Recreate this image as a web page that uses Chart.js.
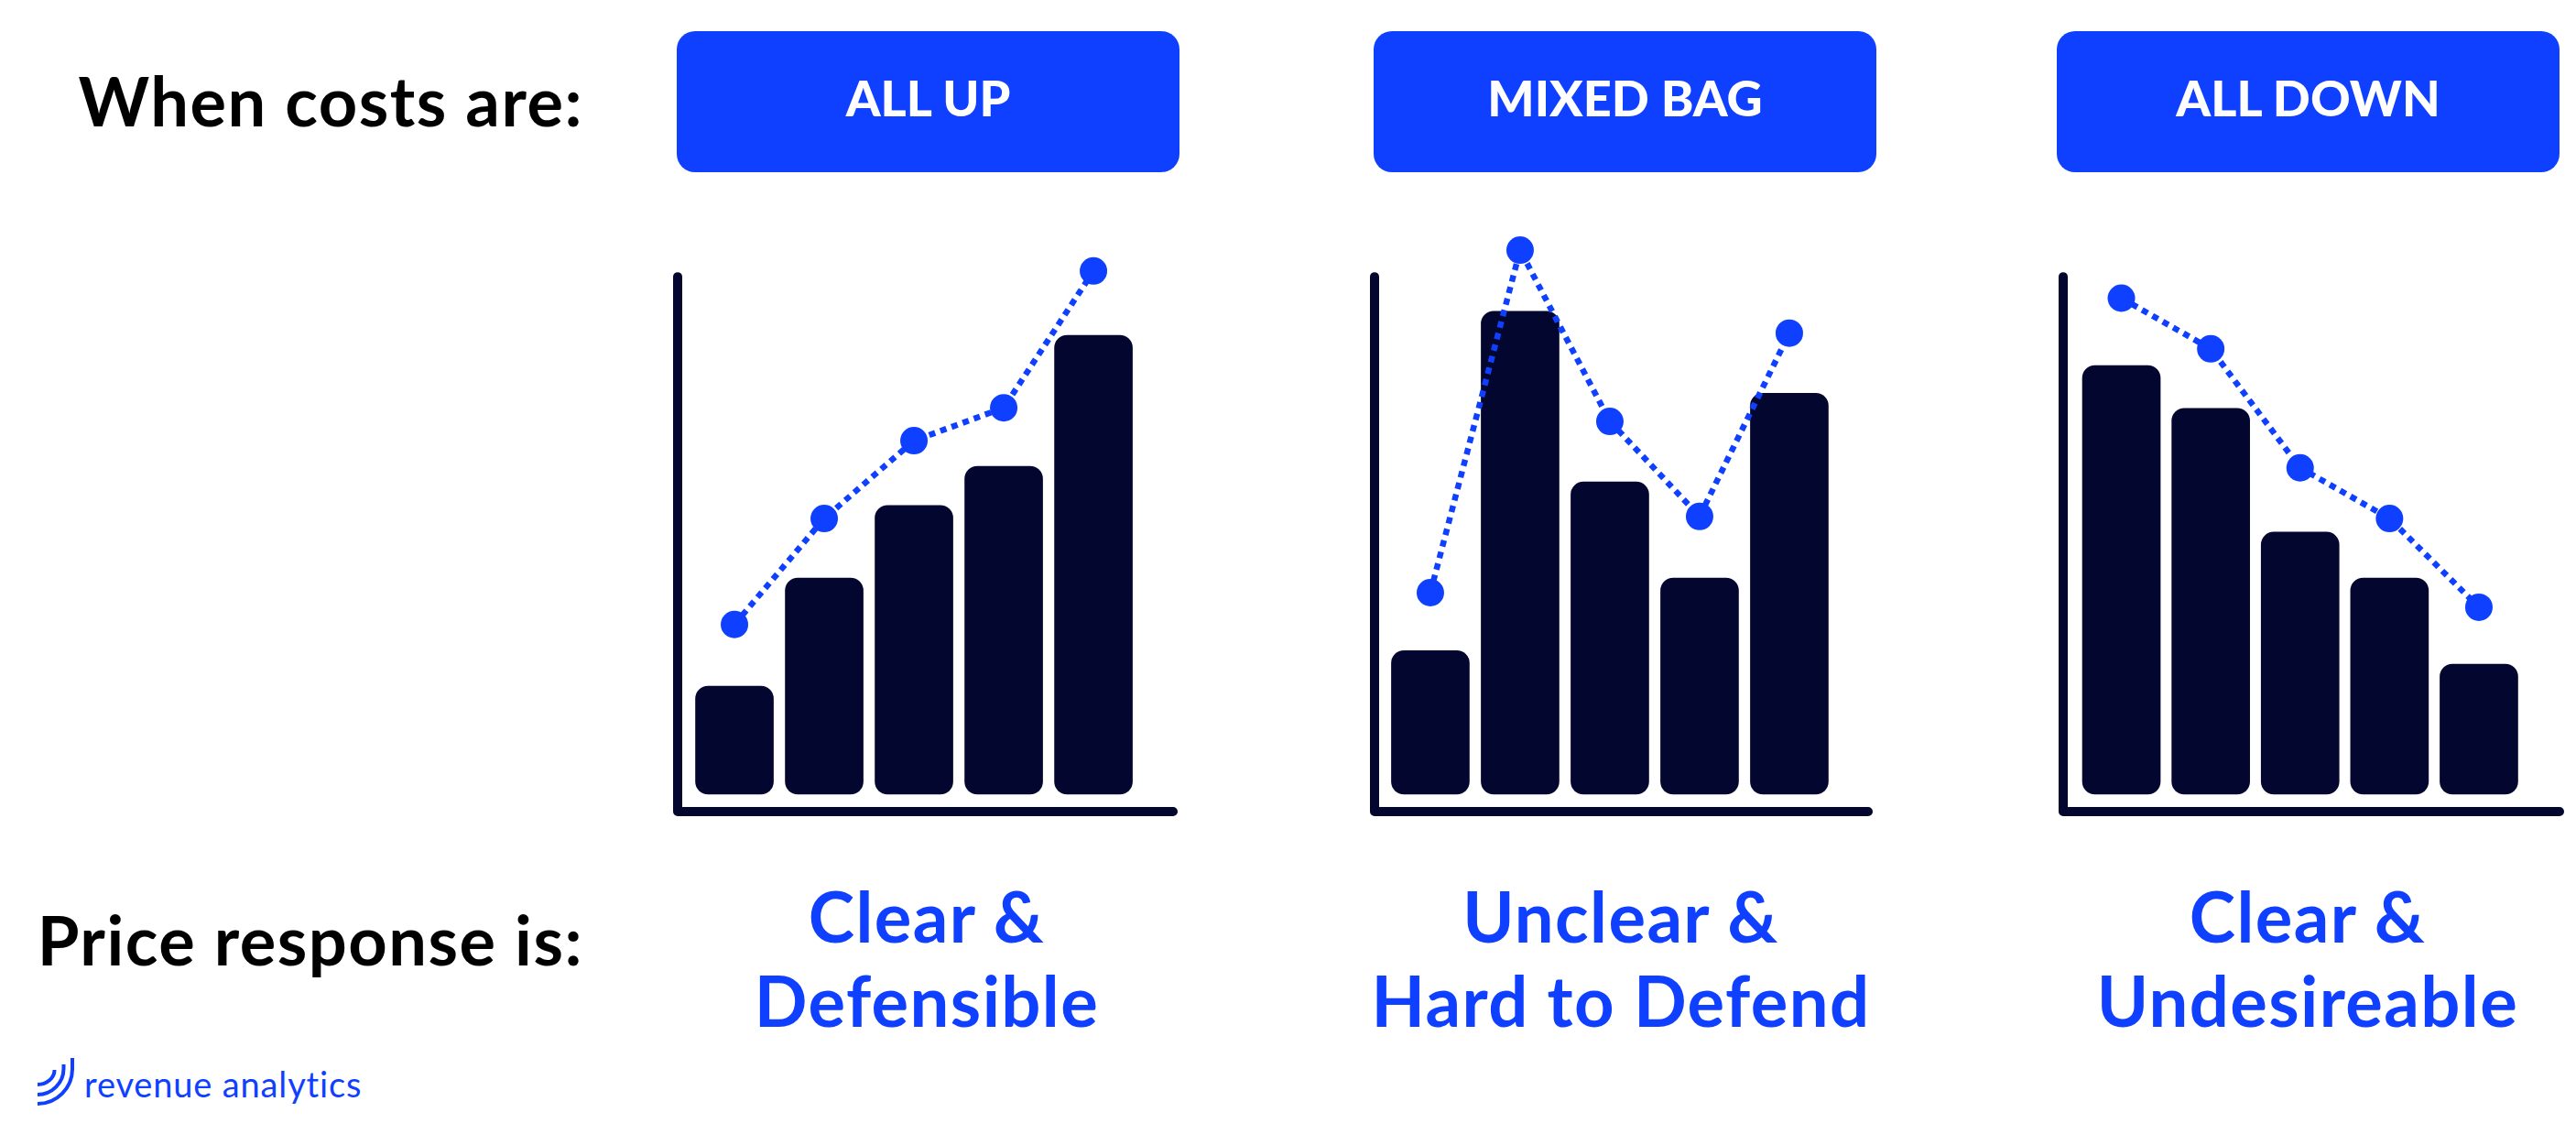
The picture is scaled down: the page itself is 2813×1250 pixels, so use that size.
<!DOCTYPE html>
<html>
<head>
<meta charset="utf-8">
<script src="https://cdn.jsdelivr.net/npm/chart.js@4"></script>
<style>
html, body { margin: 0; padding: 0; background: #fff; }
body { width: 2813px; height: 1250px; position: relative; overflow: hidden; font-family: "Lato", sans-serif; }
canvas { position: absolute; }
.rowlabel { position: absolute; right: 2176px; font-size: 74px; font-weight: 700; letter-spacing: 1.5px; color: #000; white-space: nowrap; line-height: 1; }
.btn { position: absolute; top: 34px; width: 549px; height: 154px; background: #0f40ff; border-radius: 20px; color: #fff; font-size: 54px; font-weight: 900; text-align: center; line-height: 146px; }
.resp { position: absolute; width: 700px; text-align: center; color: #0f40ff; font-size: 76px; font-weight: 700; letter-spacing: 1.4px; line-height: 92px; }
.brand { position: absolute; left: 92px; top: 1160px; color: #0f40ff; font-size: 38px; letter-spacing: 0.85px; line-height: 46px; white-space: nowrap; }
</style>
</head>
<body>
<div class="rowlabel" style="top:73px">When costs are:</div>
<div class="rowlabel" style="top:989px">Price response is:</div>

<div class="btn" style="left:739px">ALL UP</div>
<div class="btn" style="left:1500px">MIXED BAG</div>
<div class="btn" style="left:2246px">ALL DOWN</div>

<canvas id="allUp"></canvas>
<canvas id="mixedBag"></canvas>
<canvas id="allDown"></canvas>

<div class="resp" style="left:662px;top:954px">Clear &amp;<br>Defensible</div>
<div class="resp" style="left:1420px;top:954px">Unclear &amp;<br>Hard to Defend</div>
<div class="resp" style="left:2170px;top:954px">Clear &amp;<br>Undesireable</div>

<svg style="position:absolute;left:38px;top:1152px" width="48" height="60" fill="none" stroke="#0f40ff" stroke-width="4">
  <path d="M41 3 V15 A38 38 0 0 1 3 53"/>
  <path d="M31.5 10 V14.5 A28.5 28.5 0 0 1 3 43"/>
  <path d="M21.5 16 A18.5 16 0 0 1 3 32"/>
</svg>
<div class="brand">revenue analytics</div>

<script>
const steps = [1, 2, 3, 4, 5];

// 100 = top of the y axis line
const upCosts = [20.7, 41.4, 55.3, 62.8, 87.9];
const upPrices = [32.5, 52.8, 67.7, 74, 100.2];
const mixedCosts = [27.5, 92.5, 59.8, 41.4, 76.8];
const mixedPrices = [38.6, 104.2, 71.4, 53.2, 88.3];
const downCosts = [82.1, 73.9, 50.2, 41.4, 24.9];
const downPrices = [95, 85.3, 62.5, 52.8, 35.8];

const navy = "#03062f";
const blue = "#0f40ff";

// axis line with rounded ends, follows the scales
const axisLines = {
    id: "axisLines",
    beforeDatasetsDraw(chart) {
        const { ctx, chartArea: a, scales } = chart;
        ctx.save();
        ctx.strokeStyle = navy;
        ctx.lineWidth = 10;
        ctx.lineCap = "round";
        ctx.lineJoin = "round";
        ctx.beginPath();
        ctx.moveTo(a.left, scales.y.getPixelForValue(99.1));
        ctx.lineTo(a.left, a.bottom);
        ctx.lineTo(a.right, a.bottom);
        ctx.stroke();
        ctx.restore();
    }
};

function dibujarPanel(id, costs, prices, box, xMin, xMax) {
    const canvas = document.getElementById(id);
    canvas.style.left = box.left + "px";
    canvas.style.top = "224px";
    canvas.width = box.width;
    canvas.height = 678;

    return new Chart(canvas.getContext("2d"), {
        data: {
            datasets: [
                {
                    type: "line",
                    data: steps.map((s, i) => ({ x: s, y: prices[i] })),
                    borderColor: blue,
                    borderWidth: 6.5,
                    borderDash: [7, 6],
                    backgroundColor: blue,
                    pointRadius: 15,
                    pointBorderWidth: 0,
                    order: 1
                },
                {
                    type: "bar",
                    data: steps.map((s, i) => ({ x: s, y: costs[i] })),
                    backgroundColor: navy,
                    barThickness: 85,
                    borderRadius: 14,
                    borderSkipped: false,
                    order: 2
                }
            ]
        },
        plugins: [axisLines],
        options: {
            responsive: false,
            animation: false,
            devicePixelRatio: 1,
            layout: { padding: { top: 16, left: 20, right: 16, bottom: 16 } },
            plugins: { legend: { display: false }, tooltip: { enabled: false } },
            scales: {
                x: {
                    type: "linear",
                    offset: false,
                    min: xMin,
                    max: xMax,
                    display: false
                },
                y: {
                    min: -3.33,
                    max: 110,
                    display: false
                }
            }
        }
    });
}

dibujarPanel("allUp", upCosts, upPrices, { left: 720, width: 577 }, 0.367, 5.887);
dibujarPanel("mixedBag", mixedCosts, mixedPrices, { left: 1481, width: 575 }, 0.378, 5.878);
dibujarPanel("allDown", downCosts, downPrices, { left: 2233, width: 578 }, 0.349, 5.902);
</script>
</body>
</html>
